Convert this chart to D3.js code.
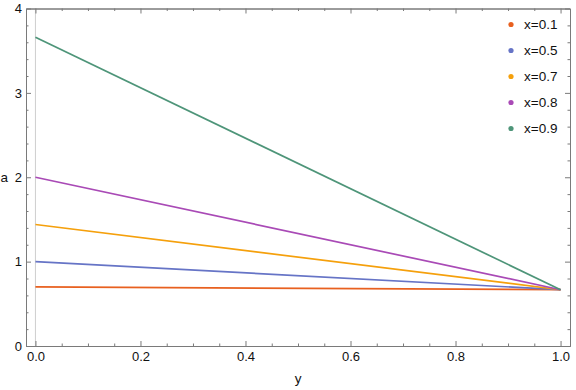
<!DOCTYPE html>
<html>
<head>
<meta charset="utf-8">
<script src="https://cdn.jsdelivr.net/npm/d3@7"></script>
<style>
  body { margin: 0; background: #fff; }
  svg { font-family: "Liberation Sans", Arial, sans-serif; }
</style>
</head>
<body>
<svg width="576" height="390"></svg>
<script>
// series: a at y=0 and y=1
const seriesNames = ["x=0.1", "x=0.5", "x=0.7", "x=0.8", "x=0.9"]
const yPoints = [0, 1]
const aAtStart = [0.70, 1.0, 1.44, 2.0, 3.66]
const aAtEnd = [0.667, 0.667, 0.667, 0.667, 0.667]
const colors = ["#e8601f", "#6674c6", "#f5a00c", "#a94ab6", "#4e9579"]

const xMajor = [0, 0.2, 0.4, 0.6, 0.8, 1.0]
const xMinor = [0.05, 0.1, 0.15, 0.25, 0.3, 0.35, 0.45, 0.5, 0.55, 0.65, 0.7, 0.75, 0.85, 0.9, 0.95]
const yMajor = [0, 1, 2, 3, 4]
const yMinor = [0.2, 0.4, 0.6, 0.8, 1.2, 1.4, 1.6, 1.8, 2.2, 2.4, 2.6, 2.8, 3.2, 3.4, 3.6, 3.8]

let svg = d3.select("svg")

let frameLeft = 26, frameRight = 570, frameTop = 8.5, frameBottom = 346
let frameColor = "#7a7a7a"

let xScale = d3.scaleLinear().domain([-0.018, 1.018]).range([frameLeft, frameRight])
let yScale = d3.scaleLinear().domain([0, 4]).range([frameBottom, frameTop])

const styleAxis = g => {
    g.selectAll("path.domain").attr("stroke", frameColor)
    g.selectAll(".tick line").attr("stroke", frameColor)
    g.selectAll(".tick text").attr("fill", "#111").style("font-size", "13px")
    g.attr("font-family", null)
}

// gray axis line at y = 0
svg.append("line")
    .attr("x1", xScale(0)).attr("x2", xScale(0))
    .attr("y1", frameTop).attr("y2", frameBottom)
    .attr("stroke", "#cfcfcf")
    .attr("stroke-width", 1)

const drawFrame = () => {
    svg.append("g")
        .attr("transform", "translate(0," + frameBottom + ")")
        .call(d3.axisBottom(xScale).tickValues(xMajor).tickSize(-5).tickSizeOuter(0).tickPadding(6).tickFormat(d3.format(".1f")))
        .call(styleAxis)
    svg.append("g")
        .attr("transform", "translate(0," + frameBottom + ")")
        .call(d3.axisBottom(xScale).tickValues(xMinor).tickSize(-2.5).tickSizeOuter(0).tickFormat(""))
        .call(styleAxis)
    svg.append("g")
        .attr("transform", "translate(0," + frameTop + ")")
        .call(d3.axisTop(xScale).tickValues(xMajor).tickSize(-5).tickSizeOuter(0).tickFormat(""))
        .call(styleAxis)
    svg.append("g")
        .attr("transform", "translate(0," + frameTop + ")")
        .call(d3.axisTop(xScale).tickValues(xMinor).tickSize(-2.5).tickSizeOuter(0).tickFormat(""))
        .call(styleAxis)

    svg.append("g")
        .attr("transform", "translate(" + frameLeft + ",0)")
        .call(d3.axisLeft(yScale).tickValues(yMajor).tickSize(-5).tickSizeOuter(0).tickPadding(4).tickFormat(d3.format("d")))
        .call(styleAxis)
    svg.append("g")
        .attr("transform", "translate(" + frameLeft + ",0)")
        .call(d3.axisLeft(yScale).tickValues(yMinor).tickSize(-2.5).tickSizeOuter(0).tickFormat(""))
        .call(styleAxis)
    svg.append("g")
        .attr("transform", "translate(" + frameRight + ",0)")
        .call(d3.axisRight(yScale).tickValues(yMajor).tickSize(-5).tickSizeOuter(0).tickFormat(""))
        .call(styleAxis)
    svg.append("g")
        .attr("transform", "translate(" + frameRight + ",0)")
        .call(d3.axisRight(yScale).tickValues(yMinor).tickSize(-2.5).tickSizeOuter(0).tickFormat(""))
        .call(styleAxis)

    svg.append("text")
        .attr("x", (xScale(0) + xScale(1)) / 2)
        .attr("y", 383)
        .attr("text-anchor", "middle")
        .style("font-size", "13.5px")
        .attr("fill", "#111")
        .text("y")

    svg.append("text")
        .attr("x", 0.5)
        .attr("y", yScale(2))
        .attr("dy", "0.35em")
        .style("font-size", "13.5px")
        .attr("fill", "#111")
        .text("a")
}

const drawLines = () => {
    let line = d3.line()
        .x(d => xScale(d[0]))
        .y(d => yScale(d[1]))

    let data = seriesNames.map((name, i) => ({
        name: name,
        color: colors[i],
        points: [[yPoints[0], aAtStart[i]], [yPoints[1], aAtEnd[i]]]
    }))

    svg.append("g")
        .selectAll("path")
        .data(data)
        .enter()
        .append("path")
        .attr("d", d => line(d.points))
        .attr("fill", "none")
        .attr("stroke", d => d.color)
        .attr("stroke-width", 1.7)
}

const drawLegend = () => {
    let rows = svg.append("g")
        .attr("id", "legend")
        .selectAll("g")
        .data(seriesNames)
        .enter()
        .append("g")
        .attr("transform", (d, i) => "translate(511," + (24.5 + i * 26) + ")")

    rows.append("circle")
        .attr("r", 2.6)
        .attr("fill", (d, i) => colors[i])

    rows.append("text")
        .attr("x", 13)
        .attr("dy", "0.36em")
        .style("font-size", "13.5px")
        .attr("fill", "#111")
        .text(d => d)
}

drawLines()
drawFrame()
drawLegend()
</script>
</body>
</html>
